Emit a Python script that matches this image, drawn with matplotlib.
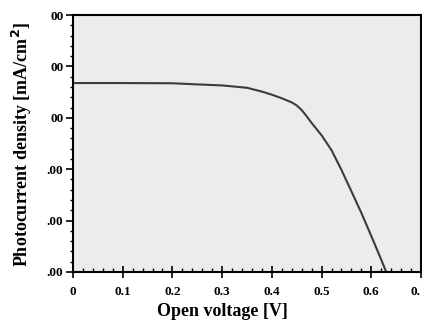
import numpy as np
import matplotlib
matplotlib.use("Agg")
from matplotlib import pyplot as plt
from matplotlib.ticker import MultipleLocator

# J-V curve
voltage = [0.0, 0.1, 0.2, 0.25, 0.3, 0.35, 0.38, 0.4, 0.42, 0.44, 0.45, 0.46, 0.47,
           0.48, 0.49, 0.5, 0.52, 0.54, 0.56, 0.58, 0.60, 0.62, 0.63]
current = [18.38, 18.38, 18.36, 18.25, 18.15, 17.92, 17.55, 17.25, 16.9, 16.5, 16.2,
           15.75, 15.15, 14.5, 13.9, 13.3, 11.85, 9.93, 7.85, 5.75, 3.5, 1.2, 0.0]

x_ticks = [0, 0.1, 0.2, 0.3, 0.4, 0.5, 0.6, 0.7]
x_tick_labels = ['0', '0.1', '0.2', '0.3', '0.4', '0.5', '0.6', '0.']
y_ticks = [0, 5, 10, 15, 20, 25]
y_tick_labels = ['.00', '.00', '.00', '00', '00', '00']

plt.rcParams['font.family'] = ['Liberation Serif', 'DejaVu Serif']
plt.rcParams['font.weight'] = 'bold'

fig = plt.figure(figsize=(4.22, 3.26), dpi=100)
ax = fig.add_axes([73 / 422, 54 / 326, 348 / 422, 257 / 326])
ax.set_facecolor('#ececec')

ax.plot(voltage, current, color='#3c3c3c', lw=1.5)

ax.set_xlim(0, 0.7)
ax.set_ylim(0, 25)
ax.set_xticks(x_ticks)
ax.set_xticklabels(x_tick_labels, fontsize=9.5, fontweight='bold')
ax.get_xticklabels()[-1].set_horizontalalignment('right')
ax.set_yticks(y_ticks)
ax.set_yticklabels(y_tick_labels, fontsize=9.5, fontweight='bold')
ax.xaxis.set_minor_locator(MultipleLocator(0.02))
ax.yaxis.set_minor_locator(MultipleLocator(1))

ax.tick_params(axis='x', which='major', direction='inout', length=8, width=1.2, pad=6)
ax.tick_params(axis='x', which='minor', direction='in', length=3, width=1)
ax.tick_params(axis='y', which='major', direction='out', length=5, width=1.2, pad=2)
ax.tick_params(axis='y', which='minor', direction='out', length=2.5, width=1)
for s in ax.spines.values():
    s.set_linewidth(1.5)

fig.text(222 / 422, 14 / 326, 'Open voltage [V]', ha='center', va='center',
         fontsize=13, fontweight='bold')
fig.text(22 / 422, 0.5 + (326 / 2 - 144) / 326, 'Photocurrent density [mA/cm$^\\mathbf{2}$]',
         rotation=90, ha='center', va='center', fontsize=13, fontweight='bold')

fig.savefig('out.png', dpi=100)
